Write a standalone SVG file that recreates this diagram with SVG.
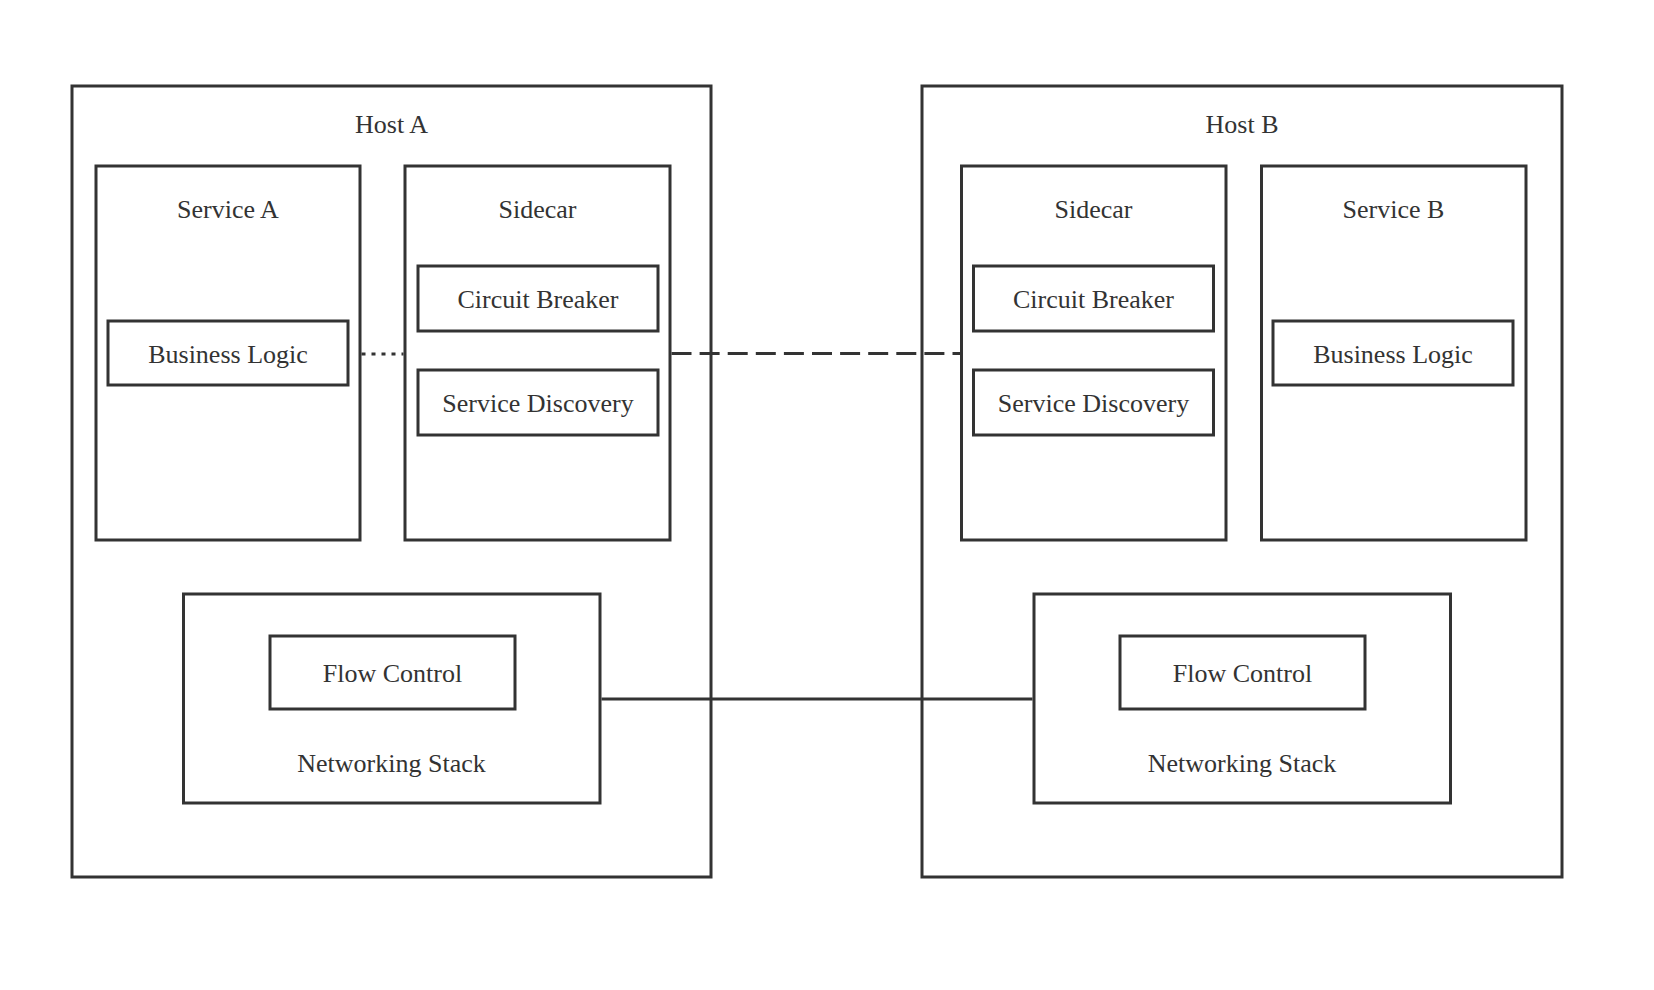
<svg xmlns="http://www.w3.org/2000/svg" width="1654" height="990" viewBox="0 0 1654 990">
<style>
.box{fill:none;stroke:#333333;stroke-width:3}
.t{font-family:"Liberation Serif","Times New Roman",serif;font-size:26px;fill:#333333;text-anchor:middle}
.c{fill:none;stroke:#333333;stroke-width:3}
</style>
<rect width="1654" height="990" fill="#ffffff"/>
<g id="hostA">
<rect class="box" x="72" y="86" width="639" height="791"/>
<text class="t" x="391.5" y="133">Host A</text>
</g>
<g id="serviceA">
<rect class="box" x="96" y="166" width="264" height="374"/>
<text class="t" x="228" y="218">Service A</text>
</g>
<g id="businessLogicA">
<rect class="box" x="108" y="321" width="240" height="64"/>
<text class="t" x="228" y="363">Business Logic</text>
</g>
<g id="sidecarA">
<rect class="box" x="405" y="166" width="265" height="374"/>
<text class="t" x="537.5" y="218">Sidecar</text>
</g>
<g id="circuitBreakerA">
<rect class="box" x="418" y="266" width="240" height="65"/>
<text class="t" x="538" y="308">Circuit Breaker</text>
</g>
<g id="serviceDiscoveryA">
<rect class="box" x="418" y="370" width="240" height="65"/>
<text class="t" x="538" y="412">Service Discovery</text>
</g>
<g id="networkingStackA">
<rect class="box" x="183.5" y="594" width="416.5" height="209"/>
<text class="t" x="391.5" y="772">Networking Stack</text>
</g>
<g id="flowControlA">
<rect class="box" x="270" y="636" width="245" height="73"/>
<text class="t" x="392.5" y="682">Flow Control</text>
</g>
<g id="hostB">
<rect class="box" x="922" y="86" width="640" height="791"/>
<text class="t" x="1242" y="133">Host B</text>
</g>
<g id="sidecarB">
<rect class="box" x="961.5" y="166" width="264.5" height="374"/>
<text class="t" x="1093.5" y="218">Sidecar</text>
</g>
<g id="circuitBreakerB">
<rect class="box" x="973.5" y="266" width="240" height="65"/>
<text class="t" x="1093.5" y="308">Circuit Breaker</text>
</g>
<g id="serviceDiscoveryB">
<rect class="box" x="973.5" y="370" width="240" height="65"/>
<text class="t" x="1093.5" y="412">Service Discovery</text>
</g>
<g id="serviceB">
<rect class="box" x="1261.5" y="166" width="264.5" height="374"/>
<text class="t" x="1393.5" y="218">Service B</text>
</g>
<g id="businessLogicB">
<rect class="box" x="1273" y="321" width="240" height="64"/>
<text class="t" x="1393" y="363">Business Logic</text>
</g>
<g id="networkingStackB">
<rect class="box" x="1034" y="594" width="416.5" height="209"/>
<text class="t" x="1242" y="772">Networking Stack</text>
</g>
<g id="flowControlB">
<rect class="box" x="1120" y="636" width="245" height="73"/>
<text class="t" x="1242.5" y="682">Flow Control</text>
</g>
<g id="connectors">
<line class="c" x1="361.5" y1="354" x2="403.5" y2="354" stroke-dasharray="4 6"/>
<line class="c" x1="671.5" y1="353.5" x2="960" y2="353.5" stroke-dasharray="20 8.1"/>
<line class="c" x1="601.5" y1="699" x2="1032.5" y2="699"/>
</g>
</svg>
